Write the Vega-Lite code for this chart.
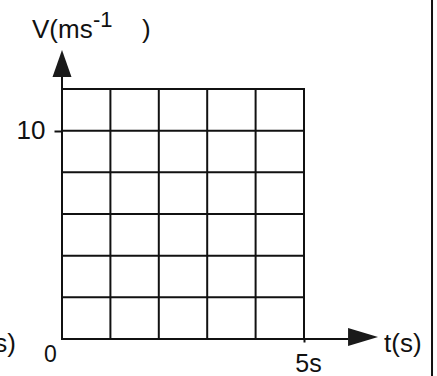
{
  "$schema": "https://vega.github.io/schema/vega-lite/v6.json",
  "width": 242,
  "height": 250,
  "autosize": {"type": "none"},
  "padding": {"left": 62, "top": 89, "right": 133, "bottom": 37},
  "background": "white",
  "config": {"view": {"stroke": null}},
  "resolve": {"axis": {"x": "independent", "y": "independent"}},
  "layer": [
    {
      "data": {"values": [
        {"x": 0, "y": 0, "x2": 0, "y2": 12},
        {"x": 1, "y": 0, "x2": 1, "y2": 12},
        {"x": 2, "y": 0, "x2": 2, "y2": 12},
        {"x": 3, "y": 0, "x2": 3, "y2": 12},
        {"x": 4, "y": 0, "x2": 4, "y2": 12},
        {"x": 5, "y": 0, "x2": 5, "y2": 12},
        {"x": 0, "y": 0, "x2": 5, "y2": 0},
        {"x": 0, "y": 2, "x2": 5, "y2": 2},
        {"x": 0, "y": 4, "x2": 5, "y2": 4},
        {"x": 0, "y": 6, "x2": 5, "y2": 6},
        {"x": 0, "y": 8, "x2": 5, "y2": 8},
        {"x": 0, "y": 10, "x2": 5, "y2": 10},
        {"x": 0, "y": 12, "x2": 5, "y2": 12},
        {"x": 0, "y": 12, "x2": 0, "y2": 12.7},
        {"x": 5, "y": 0, "x2": 5.9, "y2": 0},
        {"x": 7.645, "y": -3, "x2": 7.645, "y2": 18}
      ]},
      "mark": {"type": "rule", "color": "#111111", "strokeWidth": 2, "strokeCap": "square"},
      "encoding": {
        "x": {"field": "x", "type": "quantitative",
          "scale": {"domain": [0, 5], "nice": false, "zero": false},
          "axis": {"values": [5], "labelExpr": "'5s'", "title": null, "grid": false, "domain": false,
            "tickSize": 3, "tickWidth": 2, "tickColor": "#111111", "labelFontSize": 25,
            "labelFont": "Liberation Sans", "labelColor": "#111111", "labelPadding": 9, "labelOffset": 4,
            "labelFlush": false, "labelAlign": "center"}},
        "y": {"field": "y", "type": "quantitative",
          "scale": {"domain": [0, 12], "nice": false, "zero": false},
          "axis": {"values": [10], "title": null, "grid": false, "domain": false,
            "tickSize": 8, "tickWidth": 2, "tickColor": "#111111", "labelFontSize": 26,
            "labelFont": "Liberation Sans", "labelColor": "#111111", "labelPadding": 9, "labelFlush": false}},
        "x2": {"field": "x2"},
        "y2": {"field": "y2"}
      }
    },
    {
      "data": {"values": [{"x": 0, "y": 13.22}]},
      "mark": {"type": "point", "filled": true, "shape": "M0,-1.35L0.95,1.35L-0.95,1.35Z", "size": 400, "color": "#1a1a1a", "opacity": 1, "strokeWidth": 0},
      "encoding": {
        "x": {"field": "x", "type": "quantitative", "scale": {"domain": [0, 5], "nice": false, "zero": false}, "axis": null},
        "y": {"field": "y", "type": "quantitative", "scale": {"domain": [0, 12], "nice": false, "zero": false}, "axis": null}
      }
    },
    {
      "data": {"values": [{"x": 6.22, "y": 0.1}]},
      "mark": {"type": "point", "filled": true, "shape": "M1.5,0L-1.5,-0.9L-1.5,0.9Z", "size": 400, "color": "#1a1a1a", "opacity": 1, "strokeWidth": 0},
      "encoding": {
        "x": {"field": "x", "type": "quantitative", "scale": {"domain": [0, 5], "nice": false, "zero": false}, "axis": null},
        "y": {"field": "y", "type": "quantitative", "scale": {"domain": [0, 12], "nice": false, "zero": false}, "axis": null}
      }
    },
    {
      "data": {"values": [
        {"x": -0.62, "y": 14.47, "label": "V(ms"},
        {"x": 1.653, "y": 14.47, "label": ")"},
        {"x": 6.653, "y": -0.624, "label": "t(s)"}
      ]},
      "mark": {"type": "text", "align": "left", "baseline": "alphabetic", "fontSize": 26, "font": "Liberation Sans", "color": "#111111"},
      "encoding": {
        "x": {"field": "x", "type": "quantitative", "scale": {"domain": [0, 5], "nice": false, "zero": false}, "axis": null},
        "y": {"field": "y", "type": "quantitative", "scale": {"domain": [0, 12], "nice": false, "zero": false}, "axis": null},
        "text": {"field": "label"}
      }
    },
    {
      "data": {"values": [{"x": 0.64, "y": 14.98, "label": "-1"}]},
      "mark": {"type": "text", "align": "left", "baseline": "alphabetic", "fontSize": 22, "font": "Liberation Sans", "color": "#111111"},
      "encoding": {
        "x": {"field": "x", "type": "quantitative", "scale": {"domain": [0, 5], "nice": false, "zero": false}, "axis": null},
        "y": {"field": "y", "type": "quantitative", "scale": {"domain": [0, 12], "nice": false, "zero": false}, "axis": null},
        "text": {"field": "label"}
      }
    },
    {
      "data": {"values": [{"x": -0.238, "y": -1.104, "label": "0"}]},
      "mark": {"type": "text", "align": "center", "baseline": "alphabetic", "fontSize": 23, "font": "Liberation Sans", "color": "#111111"},
      "encoding": {
        "x": {"field": "x", "type": "quantitative", "scale": {"domain": [0, 5], "nice": false, "zero": false}, "axis": null},
        "y": {"field": "y", "type": "quantitative", "scale": {"domain": [0, 12], "nice": false, "zero": false}, "axis": null},
        "text": {"field": "label"}
      }
    },
    {
      "data": {"values": [{"x": -0.95, "y": -0.624, "label": "t(s)"}]},
      "mark": {"type": "text", "align": "right", "baseline": "alphabetic", "fontSize": 26, "font": "Liberation Sans", "color": "#111111"},
      "encoding": {
        "x": {"field": "x", "type": "quantitative", "scale": {"domain": [0, 5], "nice": false, "zero": false}, "axis": null},
        "y": {"field": "y", "type": "quantitative", "scale": {"domain": [0, 12], "nice": false, "zero": false}, "axis": null},
        "text": {"field": "label"}
      }
    }
  ]
}
